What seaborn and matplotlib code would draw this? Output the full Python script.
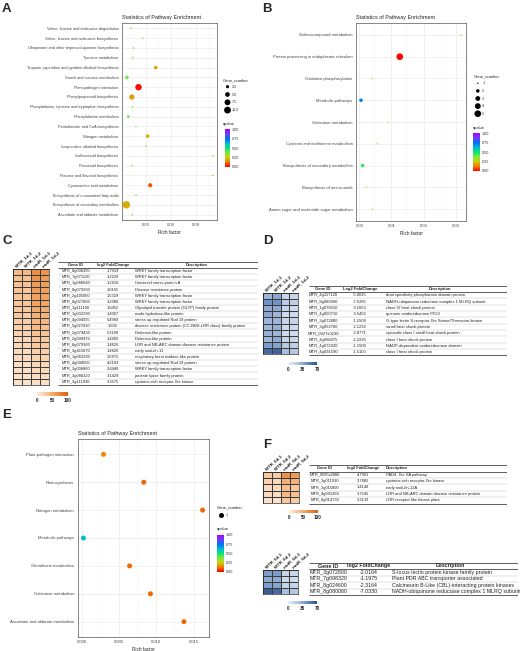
import numpy as np
import pandas as pd
import matplotlib
matplotlib.use("Agg")
import matplotlib.pyplot as plt
import seaborn as sns
from matplotlib.colors import LinearSegmentedColormap, Normalize
from matplotlib.cm import ScalarMappable

sns.set_style("white")
plt.rcParams['font.family'] = ['Liberation Sans', 'DejaVu Sans']
plt.rcParams['axes.linewidth'] = 0.5

W, H = 520, 651
fig = plt.figure(figsize=(W / 100, H / 100), dpi=100)

# ---------------- data ----------------
a_pathway = ["Valine, leucine and isoleucine degradation", "Valine, leucine and isoleucine biosynthesis",
             "Ubiquinone and other terpenoid-quinone biosynthesis", "Tyrosine metabolism",
             "Tropane, piperidine and pyridine alkaloid biosynthesis", "Starch and sucrose metabolism",
             "Plant-pathogen interaction", "Phenylpropanoid biosynthesis",
             "Phenylalanine, tyrosine and tryptophan biosynthesis", "Phenylalanine metabolism",
             "Pantothenate and CoA biosynthesis", "Nitrogen metabolism", "Isoquinoline alkaloid biosynthesis",
             "Isoflavonoid biosynthesis", "Flavonoid biosynthesis", "Flavone and flavonol biosynthesis",
             "Cyanoamino acid metabolism", "Biosynthesis of unsaturated fatty acids",
             "Biosynthesis of secondary metabolites", "Ascorbate and aldarate metabolism"]
a_rich = [0.012, 0.026, 0.0148, 0.014, 0.0416, 0.0072, 0.021, 0.013, 0.014, 0.0088,
          0.018, 0.032, 0.030, 0.110, 0.013, 0.110, 0.035, 0.018, 0.0064, 0.0136]
a_genes = [1, 1, 1, 1, 3, 3, 9, 6, 1, 2, 1, 3, 1, 1, 1, 1, 4, 1, 12, 1]
a_qvalue = [0.38, 0.38, 0.38, 0.38, 0.18, 0.40, 0.01, 0.18, 0.38, 0.40,
            0.38, 0.19, 0.38, 0.27, 0.38, 0.27, 0.08, 0.38, 0.20, 0.38]
a_size_breaks = [2.5, 5.0, 7.5, 10.0]

b_pathway = ["Selenocompound metabolism", "Protein processing in endoplasmic reticulum",
             "Oxidative phosphorylation", "Metabolic pathways", "Galactose metabolism",
             "Cysteine and methionine metabolism", "Biosynthesis of secondary metabolites",
             "Biosynthesis of amino acids", "Amino sugar and nucleotide sugar metabolism"]
b_rich = [0.0317, 0.0126, 0.0041, 0.0005, 0.009, 0.0056, 0.001, 0.0022, 0.0041]
b_genes = [1, 5, 1, 2, 1, 1, 2, 1, 1]
b_qvalue = [0.27, 0.0, 0.27, 0.72, 0.27, 0.27, 0.45, 0.27, 0.27]
b_size_breaks = [1, 2, 3, 4, 5]

e_pathway = ["Plant-pathogen interaction", "Photosynthesis", "Nitrogen metabolism", "Metabolic pathways",
             "Glutathione metabolism", "Galactose metabolism", "Ascorbate and aldarate metabolism"]
e_rich = [0.0029, 0.0083, 0.0162, 0.0002, 0.0064, 0.0092, 0.0137]
e_genes = [1, 1, 1, 1, 1, 1, 1]
e_qvalue = [0.15, 0.10, 0.10, 0.62, 0.10, 0.10, 0.10]
e_size_breaks = [1]

q_breaks = [0.0, 0.25, 0.5, 0.75, 1.0]

c_cols = ["WTR_1d-1", "WTR_1d-2", "mutR_1d-1", "mutR_1d-2"]
c_expr = [[38, 38, 68, 64], [34, 34, 64, 60], [34, 32, 60, 58], [32, 30, 58, 56], [30, 30, 55, 54],
          [30, 30, 54, 52], [28, 28, 50, 48], [27, 25, 45, 44], [24, 24, 40, 40], [22, 22, 38, 35],
          [20, 20, 34, 33], [18, 18, 30, 29], [17, 17, 28, 26], [15, 15, 24, 23], [14, 14, 21, 21],
          [12, 12, 18, 18], [12, 11, 17, 15], [10, 10, 14, 14], [9, 9, 12, 12]]
c_ids = ["MTR_8g006350", "MTR_7g071120", "MTR_1g088640", "MTR_8g079260", "MTR_2g105060", "MTR_8g027860",
         "MTR_1g111100", "MTR_1g032290", "MTR_4g094555", "MTR_5g027810", "MTR_2g079430", "MTR_2g099470",
         "MTR_8g079360", "MTR_3g415870", "MTR_1g083290", "MTR_4g094550", "MTR_3g006860", "MTR_3g086320",
         "MTR_3g111930"]
c_fc = ["1.7919", "1.2229", "1.2616", "1.0101", "1.5329", "1.2086", "1.6452", "1.4007", "5.4969", "1.602",
        "5.3109", "1.4965", "1.4626", "1.4826", "1.5875", "4.2103", "2.6446", "3.1429", "3.3575"]
c_desc = ["WRKY family transcription factor", "WRKY family transcription factor", "Universal stress protein A",
          "Disease resistance protein", "WRKY family transcription factor", "WRKY family transcription factor",
          "Glycolipid transfer protein (GLTP) family protein", "nudix hydrolase-like protein",
          "stress up-regulated Nod 19 protein",
          "disease resistance protein (CC-NBS-LRR class) family protein", "Defensin-like protein",
          "Defensin-like protein", "LRR and NB-ARC domain disease resistance protein", "early nodulin-11",
          "respiratory burst oxidase-like protein", "stress up-regulated Nod 19 protein",
          "WRKY family transcription factor", "pectate lyase family protein", "cysteine-rich receptor-like kinase"]

d_cols = ["WTR_1d-1", "WTR_1d-2", "mutR_1d-1", "mutR_1d-2"]
d_expr = [[30, 35, 15, 15], [45, 45, 20, 18], [35, 35, 15, 12], [35, 30, 12, 12], [30, 30, 15, 15],
          [30, 32, 12, 12], [32, 30, 12, 12], [30, 35, 15, 15], [40, 38, 20, 18], [60, 62, 25, 22]]
d_ids = ["MTR_4g117120", "MTR_8g080060", "MTR_1g076610", "MTR_4g050710", "MTR_3g072800", "MTR_3g052760",
         "MTR_0027s0230", "MTR_4g068475", "MTR_4g072320", "MTR_4g091590"]
d_fc = ["-5.0015", "-7.5265", "-3.1663", "-3.5456", "-1.1508", "-2.1232", "-2.8771", "-2.2226", "-1.1508",
        "-1.5100"]
d_desc = ["dual specificity phosphatase domain protein", "NADH-ubiquinone reductase complex 1 MLRQ subunit",
          "class IV heat shock protein", "quinone oxidoreductase PIG3",
          "G-type lectin S-receptor-like Serine/Threonine-kinase", "small heat shock protein",
          "cytosolic class I small heat shock protein", "class I heat shock protein",
          "NADP-dependent oxidoreductase domain", "class I heat shock protein"]

f_cols = ["WTR_6d-1", "WTR_6d-2", "mutR_6d-1", "mutR_6d-2"]
fu_expr = [[30, 25, 65, 60], [20, 15, 45, 45], [15, 15, 35, 30], [15, 12, 40, 35], [10, 10, 30, 25]]
fu_ids = ["MTR_0095s0080", "MTR_3g011930", "MTR_3g015800", "MTR_4g091380", "MTR_8g014730"]
fu_fc = ["4.7901", "3.7885", "1.4148", "1.7545", "3.3139"]
fu_desc = ["PAD4 -like SA pathway", "cysteine-rich receptor-like kinase", "early nodulin-12A",
           "LRR and NB-ARC domain disease resistance protein", "LRR receptor-like kinase plant"]

fd_expr = [[40, 40, 15, 15], [35, 35, 12, 12], [40, 38, 15, 15], [65, 60, 25, 22]]
fd_ids = ["MTR_3g072800", "MTR_7g098320", "MTR_8g024600", "MTR_8g080060"]
fd_fc = ["-2.0164", "-1.1975", "-2.3164", "-7.0330"]
fd_desc = ["S-locus lectin protein kinase family protein", "Plant PDR ABC transporter associated",
           "Calcineurin B-Like (CBL)-interacting protein kinases",
           "NADH-ubiquinone reductase complex 1 MLRQ subunit"]

# ---------------- styles ----------------
q_cmap = LinearSegmentedColormap.from_list("qvalue", [
    (0.00, "#FF0000"), (0.10, "#F26A00"), (0.18, "#E09E00"), (0.25, "#C8D000"),
    (0.375, "#80E840"), (0.50, "#00E870"), (0.625, "#00B8D8"), (0.75, "#0070F0"),
    (0.875, "#6A40F8"), (1.00, "#B000FF")])
up_cmap = LinearSegmentedColormap.from_list("up", ["#FDEEE0", "#F7C192", "#EC9148", "#D6621C"])
down_cmap = LinearSegmentedColormap.from_list("down", ["#EEF2F9", "#B0C4E0", "#6A8FC2", "#2A4F8C"])


def px_axes(x0, y0, x1, y1):
    return fig.add_axes([x0 / W, 1 - y1 / H, (x1 - x0) / W, (y1 - y0) / H])


def size_of(v, sizes, norm):
    return sizes[0] + (v - norm[0]) / (norm[1] - norm[0]) * (sizes[1] - sizes[0])


def enrich(box, names, rich, genes, qv, sizes, size_norm, xticks, fmt, ysize):
    ax = px_axes(*box)
    df = pd.DataFrame({"Pathway": names, "Rich factor": rich, "Gene_number": genes, "qvalue": qv})
    sns.scatterplot(data=df, x="Rich factor", y="Pathway", hue="qvalue", palette=q_cmap, hue_norm=(0, 1),
                    size="Gene_number", sizes=sizes, size_norm=size_norm, linewidth=0,
                    legend=False, ax=ax, zorder=3)
    lo, hi = min(rich), max(rich)
    pad = 0.05 * (hi - lo)
    ax.set_xlim(lo - pad, hi + pad)
    ax.set_ylim(len(names) - 0.45, -0.55)
    step = xticks[1] - xticks[0]
    ax.set_xticks(xticks)
    ax.set_xticklabels([fmt.format(t) for t in xticks])
    minors = [t for t in np.arange(xticks[0] - step / 2, xticks[-1] + step, step) if lo - pad < t < hi + pad]
    ax.set_xticks(minors, minor=True)
    ax.tick_params(axis='x', which='minor', length=0)
    ax.set_axisbelow(True)
    ax.grid(True, which='major', color='#EBEBEB', lw=0.5)
    ax.grid(True, which='minor', axis='x', color='#F4F4F4', lw=0.3)
    ax.tick_params(axis='both', which='major', length=1.5, width=0.4, color='#333333', pad=1,
                   labelcolor='#444444')
    ax.tick_params(axis='x', labelsize=3.0)
    ax.tick_params(axis='y', labelsize=ysize)
    for s in ax.spines.values():
        s.set_color('#555555')
        s.set_linewidth(0.5)
    ax.set_xlabel("Rich factor", fontsize=3.4, labelpad=1.5, color='#222222')
    ax.set_ylabel("")
    ax.set_title("Statistics of Pathway Enrichment", loc='left', fontsize=3.9, pad=2.6, color='#222222')
    return ax


def legends(x, y_title, breaks, y_first, dy, sizes, size_norm, q_title_y, cb_box, fmt):
    fig.text(x / W, 1 - y_title / H, "Gene_number", fontsize=3.0, va='center', color='#222222')
    n = len(breaks)
    lax = px_axes(x, y_first - dy / 2, x + 30, y_first + dy * (n - 0.5))
    lax.set_xlim(x, x + 30)
    lax.set_ylim(n - 0.5, -0.5)
    lax.axis('off')
    lax.scatter([x + 4.5] * n, range(n), s=[size_of(b, sizes, size_norm) for b in breaks], c='black', lw=0)
    for i, b in enumerate(breaks):
        lax.text(x + 9, i, fmt.format(b), fontsize=2.7, va='center', color='#333333')
    fig.text(x / W, 1 - q_title_y / H, "qvalue", fontsize=3.0, va='center', color='#222222')
    cax = px_axes(*cb_box)
    cb = fig.colorbar(ScalarMappable(Normalize(0, 1), q_cmap), cax=cax)
    cb.set_ticks(q_breaks)
    cb.set_ticklabels(["{:.2f}".format(t) for t in q_breaks])
    cb.outline.set_visible(False)
    cax.tick_params(length=1.2, width=0.3, color='white', direction='in', labelsize=2.7, pad=1.2,
                    labelcolor='#333333')


def expr_heatmap(box, cbox, values, cols, cmap, vmax, ticks):
    ax = px_axes(*box)
    cax = px_axes(*cbox)
    df = pd.DataFrame(values, columns=cols)
    sns.heatmap(df, ax=ax, cmap=cmap, vmin=0, vmax=vmax, linewidths=0.4, linecolor='#3A3A3A',
                cbar_ax=cax, cbar_kws={'orientation': 'horizontal', 'ticks': ticks},
                xticklabels=True, yticklabels=False)
    ax.xaxis.tick_top()
    ax.set_xticklabels(cols, rotation=42, ha='left', va='bottom', rotation_mode='anchor',
                       fontsize=3.2, fontweight='bold', color='#222222')
    ax.tick_params(length=0, pad=0.5)
    for s in ax.spines.values():
        s.set_visible(True)
        s.set_color('#2B2B2B')
        s.set_linewidth(0.5)
    ax.collections[0].colorbar.outline.set_visible(False)
    cax.tick_params(length=0, labelsize=3.3, pad=1.5)
    for t in cax.get_xticklabels():
        t.set_fontweight('bold')
        t.set_color('#222222')


def gene_table(x0, x1, y_head, row_h, ids, fcs, descs, fc_head, id_cx, fc_cx, desc_x, dh_x, dh_ha, fs):
    n = len(ids)
    top = y_head - row_h / 2
    bottom = y_head + row_h * (n + 0.5)
    ax = px_axes(x0, top - 1, x1, bottom + 1)
    ax.set_xlim(x0, x1)
    ax.set_ylim(bottom + 1, top - 1)
    ax.axis('off')
    kw = dict(va='center', fontsize=fs, color='#222222')
    ax.text(id_cx, y_head, "Gene ID", ha='center', fontweight='bold', **kw)
    ax.text(fc_cx, y_head, fc_head, ha='center', fontweight='bold', **kw)
    ax.text(dh_x, y_head, "Description", ha=dh_ha, fontweight='bold', **kw)
    for i in range(n):
        y = y_head + row_h * (i + 1)
        ax.text(id_cx, y, ids[i], ha='center', **kw)
        ax.text(fc_cx, y, fcs[i], ha='center', **kw)
        ax.text(desc_x, y, descs[i], ha='left', **kw)
    ax.hlines([top, top + row_h, bottom], x0, x1, color='#444444', lw=0.6)
    ax.hlines([top + row_h * (i + 2) for i in range(n - 1)], x0, x1, color='#BBBBBB', lw=0.3)


# ---------------- panel A ----------------
enrich((122, 23, 217, 220), a_pathway, a_rich, a_genes, a_qvalue, (1.3, 29), (1, 12),
       [0.03, 0.06, 0.09], "{:.2f}", 2.8)
legends(223, 80.7, a_size_breaks, 86.7, 7.8, (1.3, 29), (1, 12), 124, (225, 129.3, 230, 166.7), "{:.1f}")

# ---------------- panel B ----------------
enrich((356, 23, 466, 221), b_pathway, b_rich, b_genes, b_qvalue, (1.0, 23), (1, 5),
       [0.0, 0.01, 0.02, 0.03], "{:.2f}", 3.0)
legends(473.3, 76, b_size_breaks, 83.3, 7.6, (1.0, 23), (1, 5), 128.3, (473.3, 133.3, 480, 171), "{:d}")

# ---------------- panel E ----------------
enrich((77.5, 439, 208.5, 637), e_pathway, e_rich, e_genes, e_qvalue, (0, 26), (0, 2),
       [0.0, 0.005, 0.01, 0.015], "{:.3f}", 3.0)
legends(216.7, 507, e_size_breaks, 515, 7.7, (0, 26), (0, 2), 529.3, (216.7, 535, 224, 571.7), "{:d}")

# ---------------- panel C ----------------
expr_heatmap((13, 269, 49, 385), (37, 391.5, 68, 395.5), c_expr, c_cols, up_cmap, 100, [0, 50, 100])
gene_table(58, 258, 265, 6.14, c_ids, c_fc, c_desc, "log2 FoldChange", 76, 113, 135, 197, 'center', 2.85)

# ---------------- panel D ----------------
expr_heatmap((263, 293, 298, 354), (288, 362, 317, 365), d_expr, d_cols, down_cmap, 70, [0, 35, 70])
gene_table(309, 507, 289, 6.33, d_ids, d_fc, d_desc, "Log2 FoldChange", 323, 360, 386, 440, 'center', 3.0)

# ---------------- panel F ----------------
expr_heatmap((263, 472, 299, 503), (289, 509.5, 318, 512.5), fu_expr, f_cols, up_cmap, 100, [0, 50, 100])
gene_table(309, 507, 468.3, 6.4, fu_ids, fu_fc, fu_desc, "log2 FoldChange", 325, 363, 386, 386, 'left', 2.85)
expr_heatmap((263, 570, 298, 594), (288, 601, 317, 604), fd_expr, f_cols, down_cmap, 70, [0, 35, 70])
gene_table(309, 518, 566, 6.43, fd_ids, fd_fc, fd_desc, "log2 FoldChange", 328.5, 368.5, 392, 450, 'center',
           3.75)

# ---------------- panel letters ----------------
for letter, x, y in [("A", 1.5, 3.5), ("B", 262.5, 3.5), ("C", 2.5, 235.5), ("D", 263, 235.5),
                     ("E", 2.5, 409.5), ("F", 263, 439)]:
    fig.text(x / W, 1 - y / H, letter, fontsize=9.5, fontweight='bold', va='top', ha='left')

fig.savefig("out.png", dpi=100)
